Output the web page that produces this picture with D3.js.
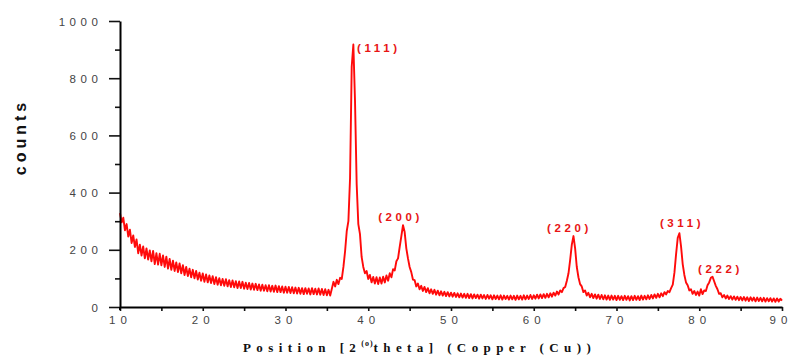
<!DOCTYPE html>
<html>
<head>
<meta charset="utf-8">
<script src="https://cdn.jsdelivr.net/npm/d3@7"></script>
<style>
    body { margin: 0; background: #fff; }
    svg { display: block; }
</style>
</head>
<body>
<div id="chart"></div>
<script>
"use strict";

// scan: 10 to 90 deg 2theta, 0.2 deg step
const thetaStart = 10;
const thetaStep = 0.2;
const counts = [
    328,
    296, 312, 268, 290, 246, 270, 224, 250, 210, 236,   // 10.2 - 12.0
    188, 218, 180, 212, 170, 205, 166, 198, 160, 196,   // 12.2 - 14.0
    150, 188, 148, 186, 146, 180, 140, 176, 134, 168,   // 14.2 - 16.0
    130, 162, 126, 156, 122, 152, 118, 146, 112, 140,   // 16.2 - 18.0
    108, 134, 104, 130, 100, 126, 96, 120, 92, 117,     // 18.2 - 20.0
    88, 114, 86, 110, 84, 108, 80, 104, 78, 101,        // 20.2 - 22.0
    76, 98, 74, 97, 72, 94, 70, 93, 69, 90,             // 22.2 - 24.0
    66, 89, 66, 88, 64, 85, 63, 84, 61, 82,             // 24.2 - 26.0
    60, 81, 59, 79, 57, 78, 57, 76, 55, 76,             // 26.2 - 28.0
    54, 74, 53, 75, 52, 73, 52, 72, 50, 71,             // 28.2 - 30.0
    50, 70, 49, 69, 48, 68, 47, 67, 46, 66,             // 30.2 - 32.0
    45, 66, 46, 65, 44, 66, 45, 64, 44, 65,             // 32.2 - 34.0
    43, 63, 42, 62, 41, 60, 40, 64, 88, 72,             // 34.2 - 36.0
    95, 80, 102, 98, 140, 195, 265, 300, 450, 840,      // 36.2 - 38.0
    918, 720, 430, 290, 255, 175, 140, 118, 126, 98,    // 38.2 - 40.0
    112, 86, 105, 82, 104, 80, 103, 82, 106, 86,        // 40.2 - 42.0
    110, 92, 118, 104, 132, 128, 160, 170, 210, 248,    // 42.2 - 44.0
    286, 262, 205, 170, 140, 122, 96, 94, 72, 82,       // 44.2 - 46.0
    62, 74, 56, 70, 52, 66, 48, 62, 46, 60,             // 46.2 - 48.0
    43, 57, 41, 55, 40, 53, 38, 52, 37, 50,             // 48.2 - 50.0
    36, 49, 35, 48, 34, 47, 33, 46, 32, 46,             // 50.2 - 52.0
    31, 45, 30, 44, 31, 43, 29, 43, 30, 42,             // 52.2 - 54.0
    28, 42, 29, 41, 27, 41, 28, 40, 27, 41,             // 54.2 - 56.0
    26, 40, 28, 39, 26, 40, 27, 39, 25, 40,             // 56.2 - 58.0
    27, 39, 26, 41, 27, 40, 28, 42, 28, 41,             // 58.2 - 60.0
    29, 43, 30, 44, 31, 45, 32, 46, 34, 48,             // 60.2 - 62.0
    36, 50, 40, 54, 44, 58, 52, 66, 70, 92,             // 62.2 - 64.0
    118, 165, 218, 248, 205, 140, 104, 80, 72, 52,      // 64.2 - 66.0
    58, 40, 50, 34, 46, 31, 44, 29, 43, 28,             // 66.2 - 68.0
    42, 27, 41, 26, 40, 25, 40, 26, 39, 24,             // 68.2 - 70.0
    39, 25, 38, 24, 39, 25, 38, 23, 38, 24,             // 70.2 - 72.0
    39, 25, 38, 24, 40, 26, 39, 27, 41, 28,             // 72.2 - 74.0
    42, 30, 44, 32, 46, 34, 48, 38, 52, 44,             // 74.2 - 76.0
    56, 52, 66, 78, 120, 185, 242, 258, 212, 150,       // 76.2 - 78.0
    112, 86, 76, 58, 62, 46, 56, 42, 54, 40,            // 78.2 - 80.0
    62, 45, 58, 56, 76, 86, 102, 106, 90, 74,           // 80.2 - 82.0
    62, 46, 48, 34, 42, 30, 40, 28, 38, 26,             // 82.2 - 84.0
    37, 25, 36, 24, 35, 23, 35, 22, 34, 21,             // 84.2 - 86.0
    34, 22, 33, 20, 33, 21, 32, 20, 32, 19,             // 86.2 - 88.0
    31, 20, 31, 19, 30, 18, 30, 19, 29, 22              // 88.2 - 90.0
];

// Miller index labels (anchored at left end of the text)
const peakLabels = ["(111)", "(200)", "(220)", "(311)", "(222)"];
const peakLabelTheta = [38.65, 41.2, 61.6, 75.25, 79.85];
const peakLabelCounts = [891, 301, 262, 280, 119];

const xMajorTicks = [10, 20, 30, 40, 50, 60, 70, 80, 90];
const xMinorTicks = [15, 25, 35, 45, 55, 65, 75, 85];
const yMajorTicks = [0, 200, 400, 600, 800, 1000];
const yMinorTicks = [100, 300, 500, 700, 900];

const width = 789;
const height = 360;
const margin = { top: 21, right: 7, bottom: 53, left: 120 };
const innerWidth = width - margin.left - margin.right;
const innerHeight = height - margin.top - margin.bottom;

const tickFont = "'Liberation Sans', Arial, sans-serif";
const yTickSpacing = 4.6;
const xTickSpacing = 5;

const data = counts.map((c, i) => ({ theta: thetaStart + i * thetaStep, value: c }));

const svg = d3.select("#chart")
    .append("svg")
    .attr("width", width)
    .attr("height", height);

const container = svg.append("g")
    .attr("transform", `translate(${margin.left}, ${margin.top})`);

const xScale = d3.scaleLinear()
    .domain([10, 90])
    .range([0, innerWidth]);

const yScale = d3.scaleLinear()
    .domain([0, 1000])
    .range([innerHeight, 0]);

// pattern first so the axes sit on top
const line = d3.line()
    .x(d => xScale(d.theta))
    .y(d => yScale(d.value));

container.append("path")
    .datum(data)
    .attr("d", line)
    .attr("fill", "none")
    .attr("stroke", "#ff0a0a")
    .attr("stroke-width", 1.9)
    .attr("stroke-linejoin", "round");

// y axis
const yAxisMinor = container.append("g")
    .call(d3.axisLeft(yScale).tickValues(yMinorTicks).tickSize(5).tickSizeOuter(0));
yAxisMinor.selectAll(".domain, .tick text").remove();

const yAxis = container.append("g")
    .call(d3.axisLeft(yScale).tickValues(yMajorTicks).tickSize(11).tickSizeOuter(0).tickPadding(6).tickFormat(d => d));

// x axis
const xAxisMinor = container.append("g")
    .attr("transform", `translate(0, ${innerHeight})`)
    .call(d3.axisBottom(xScale).tickValues(xMinorTicks).tickSize(4).tickSizeOuter(0));
xAxisMinor.selectAll(".domain, .tick text").remove();

const xAxis = container.append("g")
    .attr("transform", `translate(0, ${innerHeight})`)
    .call(d3.axisBottom(xScale).tickValues(xMajorTicks).tickSize(4).tickSizeOuter(0).tickPadding(5).tickFormat(d => d));

// drop d3's default axis font / fill attributes, style the labels directly
[yAxis, xAxis, yAxisMinor, xAxisMinor].forEach(g => g
    .attr("fill", null)
    .attr("font-size", null)
    .attr("font-family", null)
    .attr("text-anchor", null));

// letter-spaced tick labels: start-anchored, placed from their measured length
yAxis.selectAll(".tick text")
    .attr("font-family", tickFont)
    .attr("font-size", 11.5)
    .attr("letter-spacing", yTickSpacing + "px")
    .attr("fill", "#444")
    .attr("text-anchor", "start")
    .attr("dy", "4px")
    .attr("x", function() { return -22 - (this.getComputedTextLength() - yTickSpacing); });

xAxis.selectAll(".tick text")
    .attr("font-family", tickFont)
    .attr("font-size", 11.5)
    .attr("letter-spacing", xTickSpacing + "px")
    .attr("fill", "#444")
    .attr("text-anchor", "start")
    .attr("dy", "8px")
    .attr("x", function(d) {
        const w = this.getComputedTextLength() - xTickSpacing;
        return d === 90 ? -w / 2 - 4 : -w / 2 - 2.5;
    });

container.selectAll(".domain").attr("fill", "none").attr("stroke-width", 2).attr("stroke", "#000");
container.selectAll(".tick line").attr("stroke-width", 1.6).attr("stroke", "#111");

// y axis runs a little past the x axis
container.append("line")
    .attr("x1", 0).attr("x2", 0)
    .attr("y1", innerHeight).attr("y2", innerHeight + 3)
    .attr("stroke", "#000")
    .attr("stroke-width", 2);

// peak labels
container.selectAll(".peak")
    .data(peakLabels).enter()
    .append("text")
        .classed("peak", true)
        .attr("x", (d, i) => xScale(peakLabelTheta[i]))
        .attr("y", (d, i) => yScale(peakLabelCounts[i]))
        .attr("font-family", "'Liberation Sans', Arial, sans-serif")
        .attr("font-size", 11.5)
        .attr("font-weight", "bold")
        .attr("letter-spacing", "3.6px")
        .attr("fill", "#e81414")
        .text(d => d);

// axis titles
svg.append("text")
    .attr("transform", "translate(26, 137) rotate(-90)")
    .attr("text-anchor", "middle")
    .attr("font-family", "'Liberation Sans', Arial, sans-serif")
    .attr("font-size", 16)
    .attr("font-weight", "bold")
    .attr("letter-spacing", "4px")
    .attr("fill", "#111")
    .text("counts");

const xTitle = svg.append("text")
    .attr("x", 243)
    .attr("y", 352)
    .attr("font-family", "'Liberation Serif', 'Times New Roman', serif")
    .attr("font-size", 13)
    .attr("font-weight", "bold")
    .attr("letter-spacing", "5.4px")
    .attr("fill", "#111");
xTitle.append("tspan").text("Position [2");
xTitle.append("tspan")
    .attr("dy", -6)
    .attr("font-size", 8)
    .attr("letter-spacing", "1px")
    .text("(o)");
xTitle.append("tspan").attr("dy", 6).text("theta] (Copper (Cu))");
</script>
</body>
</html>
